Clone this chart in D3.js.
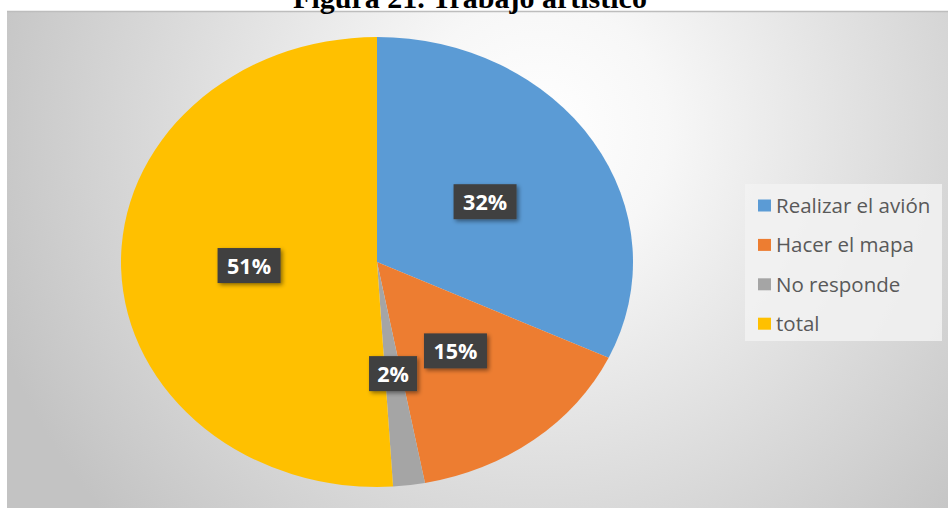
<!DOCTYPE html>
<html><head><meta charset="utf-8">
<script src="https://cdn.jsdelivr.net/npm/d3@7"></script>
<style>html,body{margin:0;padding:0;background:#fff;overflow:hidden}</style>
</head><body>
<svg id="c" width="948" height="508"></svg>
<script>
const categories = ["Realizar el avión", "Hacer el mapa", "No responde", "total"];
const values = [32, 15, 2, 51];
const labels = ["32%", "15%", "2%", "51%"];
const colors = ["#5B9BD5", "#ED7D31", "#A5A5A5", "#FFC000"];
const title = "Figura 21. Trabajo artístico";

const svg = d3.select("#c");
const defs = svg.append("defs");
const rg = defs.append("radialGradient").attr("id","bg")
  .attr("gradientUnits","userSpaceOnUse").attr("cx",540).attr("cy",130).attr("r",580);
rg.append("stop").attr("offset","0").attr("stop-color","#ffffff");
rg.append("stop").attr("offset","0.22").attr("stop-color","#f7f7f7");
rg.append("stop").attr("offset","1").attr("stop-color","#c3c3c3");
const sh = defs.append("filter").attr("id","sh").attr("x","-30%").attr("y","-30%").attr("width","160%").attr("height","160%");
sh.append("feDropShadow").attr("dx",2).attr("dy",2).attr("stdDeviation",2).attr("flood-color","#000").attr("flood-opacity",0.45);

svg.append("rect").attr("x",7).attr("y",11).attr("width",941).attr("height",497).attr("fill","url(#bg)");
svg.append("line").attr("x1",7).attr("x2",948).attr("y1",11.5).attr("y2",11.5).attr("stroke","#bdbdbd").attr("stroke-width",1.5);

svg.append("text").attr("x",470).attr("y",8).attr("text-anchor","middle")
  .attr("font-family","'Liberation Serif','Times New Roman',serif").attr("font-weight","bold")
  .attr("font-size",30).attr("fill","#000").text(title);

const cx = 377, cy = 262, rx = 256, ry = 225;
const pie = d3.pie().sort(null).value(d => d)(values);
const arc = d3.arc().innerRadius(0).outerRadius(rx);
const g = svg.append("g").attr("transform",`translate(${cx},${cy}) scale(1,${ry/rx})`);
g.selectAll("path").data(pie).join("path").attr("d",arc).attr("fill",(d,i)=>colors[i]);

const lg = svg.append("g").attr("transform",`translate(${cx},${cy})`);
pie.forEach((d,i) => {
  const c = arc.centroid(d);
  const x = c[0], y = c[1]*ry/rx;
  const w = labels[i].length > 2 ? 63 : 48, h = 35;
  const gg = lg.append("g").attr("transform",`translate(${x},${y})`);
  gg.append("rect").attr("x",-w/2).attr("y",-h/2).attr("width",w).attr("height",h)
    .attr("fill","#404040").attr("filter","url(#sh)");
  gg.append("text").attr("y",8).attr("text-anchor","middle")
    .attr("font-family","'Open Sans',sans-serif").attr("font-weight","bold").attr("font-size",21.5)
    .attr("fill","#fff").text(labels[i]);
});

const leg = svg.append("g");
leg.append("rect").attr("x",745).attr("y",184).attr("width",197).attr("height",157).attr("fill","#f2f2f2").attr("opacity",0.85);
categories.forEach((c,i) => {
  const y = 205.5 + i*39.4;
  leg.append("rect").attr("x",758).attr("y",y-6).attr("width",13).attr("height",12).attr("fill",colors[i]);
  leg.append("text").attr("x",776).attr("y",y+7.5).attr("font-family","'Open Sans',sans-serif")
    .attr("font-size",20.5).attr("fill","#595959").text(c);
});
</script>
</body></html>
